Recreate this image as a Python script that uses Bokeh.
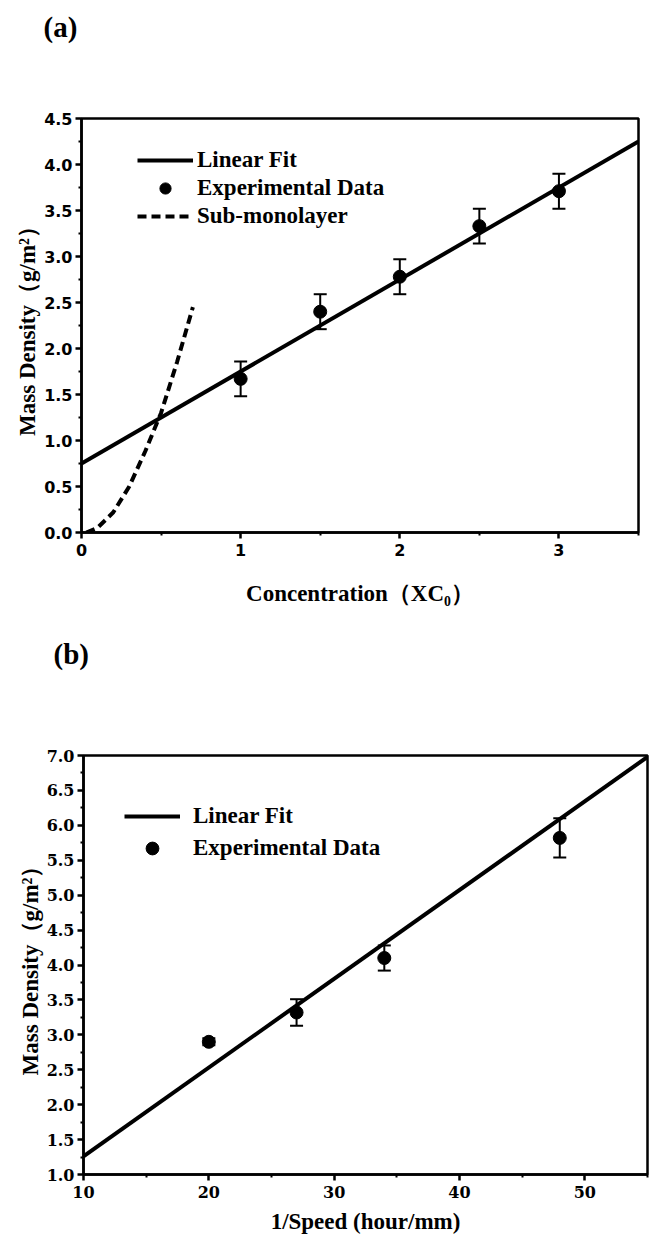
from bokeh.plotting import figure
from bokeh.models import (ColumnDataSource, Whisker, TeeHead, Legend, LegendItem,
                          FixedTicker, PrintfTickFormatter, Range1d)
from bokeh.layouts import column
from bokeh.embed import file_html
from bokeh.resources import INLINE

# ---------------- data: panel (a) ----------------
a_conc = [1.0, 1.5, 2.0, 2.5, 3.0]
a_density = [1.67, 2.40, 2.78, 3.33, 3.71]
a_error = [0.19, 0.19, 0.19, 0.19, 0.19]
a_fit_x = [0.0, 3.5]
a_fit_y = [0.75, 4.25]
a_sub_x = [0.03, 0.1, 0.2, 0.3, 0.4, 0.5, 0.6, 0.7]
a_sub_y = [0.0, 0.05, 0.22, 0.5, 0.88, 1.3, 1.85, 2.45]
a_xticks = [0, 1, 2, 3]
a_xminor = [0.5, 1.5, 2.5, 3.5]
a_yticks = [0.0, 0.5, 1.0, 1.5, 2.0, 2.5, 3.0, 3.5, 4.0, 4.5]
a_yminor = [0.25, 0.75, 1.25, 1.75, 2.25, 2.75, 3.25, 3.75, 4.25]

# ---------------- data: panel (b) ----------------
b_speed = [20, 27, 34, 48]
b_density = [2.90, 3.32, 4.10, 5.82]
b_error = [0.05, 0.19, 0.18, 0.28]
b_fit_x = [10, 55]
b_fit_y = [1.26, 6.98]
b_xticks = [10, 20, 30, 40, 50]
b_xminor = [15, 25, 35, 45, 55]
b_yticks = [1.0, 1.5, 2.0, 2.5, 3.0, 3.5, 4.0, 4.5, 5.0, 5.5, 6.0, 6.5, 7.0]
b_yminor = [1.25, 1.75, 2.25, 2.75, 3.25, 3.75, 4.25, 4.75, 5.25, 5.75, 6.25, 6.75]

SERIF = "Liberation Serif"
W = 649


def style(p, tick_font, tick_size, xlab_standoff, ylab_standoff):
    p.xgrid.visible = False
    p.ygrid.visible = False
    p.outline_line_color = "black"
    p.outline_line_width = 2.5
    p.outline_line_alpha = 1.0
    p.background_fill_color = "white"
    p.border_fill_color = "white"
    for ax in (p.xaxis[0], p.yaxis[0]):
        ax.axis_line_width = 2.5
        ax.axis_line_color = "black"
        ax.major_tick_line_width = 2.5
        ax.minor_tick_line_width = 2
        ax.major_tick_out = 6
        ax.major_tick_in = 0
        ax.minor_tick_out = 3
        ax.minor_tick_in = 0
        ax.major_label_text_font = tick_font
        ax.major_label_text_font_style = "bold"
        ax.major_label_text_font_size = tick_size
        ax.major_label_text_color = "black"
        ax.axis_label_text_font = SERIF
        ax.axis_label_text_font_style = "bold"
        ax.axis_label_text_font_size = "23px"
        ax.axis_label_text_color = "black"
        ax.major_label_standoff = 3
    p.xaxis[0].major_label_standoff = 5
    p.xaxis[0].axis_label_standoff = xlab_standoff
    p.yaxis[0].axis_label_standoff = ylab_standoff


def make_legend(items, loc, glyph_h, standoff):
    lg = Legend(items=items, location=loc)
    lg.border_line_alpha = 0
    lg.background_fill_alpha = 0
    lg.padding = 0
    lg.margin = 0
    lg.spacing = 0
    lg.glyph_width = 56
    lg.glyph_height = glyph_h
    lg.label_height = glyph_h
    lg.label_standoff = standoff
    lg.label_text_font = SERIF
    lg.label_text_font_style = "bold"
    lg.label_text_font_size = "23px"
    lg.label_text_color = "black"
    return lg


def tag_figure(text, height, top, left):
    t = figure(width=W, height=height, x_range=Range1d(0, 1), y_range=Range1d(0, 1),
               x_axis_type=None, y_axis_type=None, output_backend="svg",
               toolbar_location=None, title=text, frame_align=False,
               min_border_left=0, min_border_right=0, min_border_top=top, min_border_bottom=0)
    t.outline_line_color = None
    t.background_fill_color = "white"
    t.border_fill_color = "white"
    t.xgrid.visible = False
    t.ygrid.visible = False
    t.title.text_font = SERIF
    t.title.text_font_style = "bold"
    t.title.text_font_size = "29px"
    t.title.text_color = "black"
    t.title.align = "left"
    t.title.offset = left
    t.title.standoff = 0
    t.title.vertical_align = "bottom"
    return t


# ---------------- tag (a) ----------------
TAG_A_H = 50
tag_a = tag_figure("(a)", TAG_A_H, 42, 43)

# ---------------- panel (a) ----------------
HA = 628 - TAG_A_H
LA, RA, TA, BA = 81, 11, 118 - TAG_A_H, 96
pa = figure(width=W, height=HA, x_range=Range1d(0, 3.5), y_range=Range1d(0, 4.5),
            output_backend="svg", toolbar_location=None, frame_align=False,
            min_border_left=LA, min_border_right=RA, min_border_top=TA, min_border_bottom=BA)
style(pa, "DejaVu Sans", "16px", 22, 1)
pa.xaxis.ticker = FixedTicker(ticks=a_xticks, minor_ticks=a_xminor)
pa.yaxis.ticker = FixedTicker(ticks=a_yticks, minor_ticks=a_yminor)
pa.yaxis.formatter = PrintfTickFormatter(format="%.1f")
pa.xaxis.axis_label = "Concentration（XC₀）"
pa.yaxis.axis_label = "Mass Density（g/m²）"

ra_fit = pa.line(a_fit_x, a_fit_y, line_width=4, line_color="black")
ra_sub = pa.line(a_sub_x, a_sub_y, line_width=4, line_color="black", line_dash="9 5")
src_a = ColumnDataSource(dict(x=a_conc, y=a_density,
                              upper=[v + e for v, e in zip(a_density, a_error)],
                              lower=[v - e for v, e in zip(a_density, a_error)]))
pa.add_layout(Whisker(base="x", upper="upper", lower="lower", source=src_a,
                      line_width=2, line_color="black",
                      upper_head=TeeHead(size=13, line_width=2, line_color="black"),
                      lower_head=TeeHead(size=13, line_width=2, line_color="black")))
ra_pts = pa.scatter("x", "y", source=src_a, size=13, color="black")

fha = HA - TA - BA
leg_a = make_legend([LegendItem(label="Linear Fit", renderers=[ra_fit]),
                     LegendItem(label="Experimental Data", renderers=[ra_pts]),
                     LegendItem(label="Sub-monolayer", renderers=[ra_sub])],
                    (56, fha - 28 - 84), 28, 4)
pa.add_layout(leg_a)

# ---------------- tag (b) ----------------
TAG_B_H = 52
tag_b = tag_figure("(b)", TAG_B_H, 41, 53)

# ---------------- panel (b) ----------------
B_TOP = 628 + TAG_B_H
HB = 1241 - B_TOP
LB, RB, TB, BB = 83, 2, 755 - B_TOP, 67
pb = figure(width=W, height=HB, x_range=Range1d(10, 55), y_range=Range1d(1, 7),
            output_backend="svg", toolbar_location=None, frame_align=False,
            min_border_left=LB, min_border_right=RB, min_border_top=TB, min_border_bottom=BB)
style(pb, "DejaVu Serif", "16px", 8, 1)
pb.xaxis.ticker = FixedTicker(ticks=b_xticks, minor_ticks=b_xminor)
pb.yaxis.ticker = FixedTicker(ticks=b_yticks, minor_ticks=b_yminor)
pb.yaxis.formatter = PrintfTickFormatter(format="%.1f")
pb.xaxis.axis_label = "1/Speed (hour/mm)"
pb.yaxis.axis_label = "Mass Density（g/m²）"

rb_fit = pb.line(b_fit_x, b_fit_y, line_width=4, line_color="black")
src_b = ColumnDataSource(dict(x=b_speed, y=b_density,
                              upper=[v + e for v, e in zip(b_density, b_error)],
                              lower=[v - e for v, e in zip(b_density, b_error)]))
pb.add_layout(Whisker(base="x", upper="upper", lower="lower", source=src_b,
                      line_width=2, line_color="black",
                      upper_head=TeeHead(size=13, line_width=2, line_color="black"),
                      lower_head=TeeHead(size=13, line_width=2, line_color="black")))
rb_pts = pb.scatter("x", "y", source=src_b, size=13, color="black")

fhb = HB - TB - BB
leg_b = make_legend([LegendItem(label="Linear Fit", renderers=[rb_fit]),
                     LegendItem(label="Experimental Data", renderers=[rb_pts])],
                    (41, fhb - 45 - 64), 32, 13)
pb.add_layout(leg_b)

layout = column(tag_a, pa, tag_b, pb, spacing=0)
open("out.html", "w").write(file_html(layout, INLINE))
